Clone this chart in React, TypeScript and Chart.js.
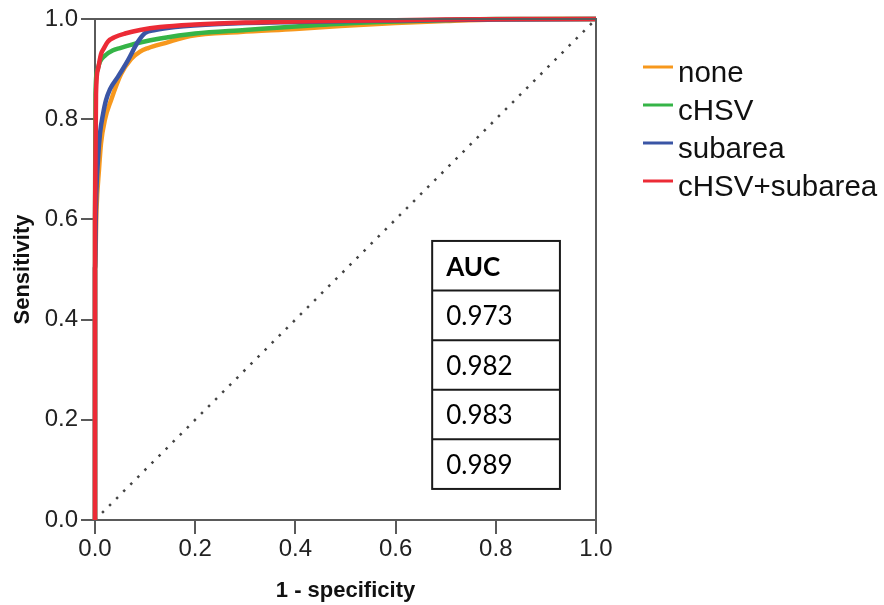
import { useEffect, useRef } from "react";
import { Chart, registerables } from "chart.js";

Chart.register(...registerables);

// ---- data ----
const seriesNames = ["none", "cHSV", "subarea", "cHSV+subarea"];
const seriesColors = ["#F7981D", "#35B447", "#3A55A5", "#EC2B36"];

const noneFpr = [0, 0, 0.003, 0.008, 0.012, 0.02, 0.032, 0.052, 0.072, 0.09, 0.106, 0.14, 0.19, 0.29, 0.4, 0.49, 0.6, 0.7, 0.8, 1];
const noneTpr = [0, 0.5, 0.62, 0.7, 0.752, 0.8, 0.838, 0.89, 0.92, 0.935, 0.942, 0.952, 0.966, 0.974, 0.98, 0.986, 0.992, 0.996, 0.999, 1];

const chsvFpr = [0, 0, 0.001, 0.004, 0.01, 0.02, 0.035, 0.05, 0.07, 0.09, 0.13, 0.2, 0.3, 0.4, 0.5, 0.6, 0.7, 0.8, 1];
const chsvTpr = [0, 0.6, 0.85, 0.895, 0.915, 0.927, 0.937, 0.942, 0.948, 0.953, 0.961, 0.971, 0.978, 0.985, 0.991, 0.995, 0.998, 1, 1];

const subareaFpr = [0, 0, 0.002, 0.006, 0.01, 0.016, 0.022, 0.03, 0.046, 0.066, 0.086, 0.1, 0.12, 0.16, 0.25, 0.4, 0.6, 0.8, 1];
const subareaTpr = [0, 0.5, 0.63, 0.72, 0.772, 0.81, 0.838, 0.86, 0.885, 0.918, 0.955, 0.972, 0.978, 0.984, 0.99, 0.994, 0.997, 0.999, 1];

const bothFpr = [0, 0, 0.002, 0.006, 0.012, 0.018, 0.026, 0.04, 0.06, 0.09, 0.13, 0.2, 0.3, 0.4, 0.55, 0.7, 0.85, 1];
const bothTpr = [0, 0.6, 0.85, 0.9, 0.93, 0.942, 0.955, 0.964, 0.971, 0.978, 0.984, 0.989, 0.993, 0.995, 0.997, 0.999, 1, 1];

const diagFpr = [0, 1];
const diagTpr = [0, 1];

const xTicks = [0, 0.2, 0.4, 0.6, 0.8, 1.0];
const yTicks = [0, 0.2, 0.4, 0.6, 0.8, 1.0];

const xTitle = "1 - specificity";
const yTitle = "Sensitivity";

const aucHeader = "AUC";
const aucValues = ["0.973", "0.982", "0.983", "0.989"];

// ---- helpers ----
const toPoints = (xs: number[], ys: number[]) => xs.map((x, i) => ({ x, y: ys[i] }));

const ARIAL = "'Liberation Sans', Arial, sans-serif";

const framePlugin = {
  id: "frame",
  afterDraw(chart: any) {
    const { ctx, chartArea } = chart;
    ctx.save();
    ctx.strokeStyle = "#5a5a5a";
    ctx.lineWidth = 2;
    ctx.beginPath();
    ctx.moveTo(chartArea.left, chartArea.top);
    ctx.lineTo(chartArea.right, chartArea.top);
    ctx.lineTo(chartArea.right, chartArea.bottom);
    ctx.stroke();
    ctx.restore();
  },
};

const aucTablePlugin = {
  id: "aucTable",
  afterDraw(chart: any) {
    const { ctx } = chart;
    const xs = chart.scales.x;
    const ys = chart.scales.y;
    const left = xs.getPixelForValue(0.673);
    const right = xs.getPixelForValue(0.928);
    const top = ys.getPixelForValue(0.557);
    const bottom = ys.getPixelForValue(0.062);
    const rows = [aucHeader, ...aucValues];
    const rowH = (bottom - top) / rows.length;
    ctx.save();
    ctx.fillStyle = "#ffffff";
    ctx.fillRect(left, top, right - left, bottom - top);
    ctx.strokeStyle = "#1a1a1a";
    ctx.lineWidth = 2;
    ctx.strokeRect(left, top, right - left, bottom - top);
    for (let i = 1; i < rows.length; i++) {
      const y = top + rowH * i;
      ctx.beginPath();
      ctx.moveTo(left, y);
      ctx.lineTo(right, y);
      ctx.stroke();
    }
    ctx.fillStyle = "#000000";
    ctx.textBaseline = "alphabetic";
    ctx.textAlign = "left";
    rows.forEach((t, i) => {
      ctx.font = (i === 0 ? "bold " : "") + "26px Lato, 'Open Sans', sans-serif";
      ctx.fillText(t, left + 14, top + rowH * i + rowH * 0.7);
    });
    ctx.restore();
  },
};

const legendPlugin = {
  id: "customLegend",
  afterDraw(chart: any) {
    const { ctx } = chart;
    ctx.save();
    const x0 = 643;
    const y0 = 67;
    const gap = 38;
    ctx.font = "29.5px " + ARIAL;
    ctx.textAlign = "left";
    ctx.textBaseline = "alphabetic";
    seriesNames.forEach((name, i) => {
      const y = y0 + gap * i;
      ctx.strokeStyle = seriesColors[i];
      ctx.lineWidth = 3;
      ctx.beginPath();
      ctx.moveTo(x0, y);
      ctx.lineTo(x0 + 30, y);
      ctx.stroke();
      ctx.fillStyle = "#111111";
      ctx.fillText(name, x0 + 35, y + 15);
    });
    ctx.restore();
  },
};

export default function App() {
  const ref = useRef<HTMLCanvasElement | null>(null);

  useEffect(() => {
    if (!ref.current) return;
    const seriesData = [
      toPoints(noneFpr, noneTpr),
      toPoints(chsvFpr, chsvTpr),
      toPoints(subareaFpr, subareaTpr),
      toPoints(bothFpr, bothTpr),
    ];
    const datasets: any[] = seriesNames.map((name, i) => ({
      label: name,
      data: seriesData[i],
      borderColor: seriesColors[i],
      backgroundColor: seriesColors[i],
      borderWidth: 4.5,
      pointRadius: 0,
      cubicInterpolationMode: "monotone",
      showLine: true,
      fill: false,
      order: 4 - i,
      clip: 6,
    }));
    datasets.push({
      label: "diag",
      data: toPoints(diagFpr, diagTpr),
      borderColor: "#444444",
      borderWidth: 2.5,
      borderDash: [2.5, 7.5],
      pointRadius: 0,
      showLine: true,
      fill: false,
      order: 10,
    });

    const chart = new Chart(ref.current, {
      type: "scatter",
      data: { datasets },
      options: {
        animation: false,
        responsive: false,
        maintainAspectRatio: false,
        layout: { padding: { top: 19, right: 288, left: 0, bottom: 0 } },
        plugins: {
          legend: { display: false },
          tooltip: { enabled: false },
        },
        scales: {
          x: {
            type: "linear",
            min: 0,
            max: 1,
            afterFit: (s: any) => {
              s.height = 85;
            },
            afterBuildTicks: (s: any) => {
              s.ticks = xTicks.map((v) => ({ value: v }));
            },
            ticks: {
              font: { family: ARIAL, size: 24 },
              color: "#222222",
              padding: 1,
              maxRotation: 0,
              callback: (v: any) => Number(v).toFixed(1),
            },
            grid: {
              drawOnChartArea: false,
              drawTicks: true,
              tickLength: 14,
              color: "#5a5a5a",
              lineWidth: 2,
            },
            border: { display: true, color: "#5a5a5a", width: 2 },
            title: {
              display: true,
              text: xTitle,
              font: { family: ARIAL, size: 22, weight: "bold" },
              color: "#111111",
              padding: { top: 0, bottom: 1 },
            },
          },
          y: {
            type: "linear",
            min: 0,
            max: 1,
            afterFit: (s: any) => {
              s.width = 95;
            },
            afterBuildTicks: (s: any) => {
              s.ticks = yTicks.map((v) => ({ value: v }));
            },
            ticks: {
              font: { family: ARIAL, size: 24 },
              color: "#222222",
              padding: 3,
              callback: (v: any) => Number(v).toFixed(1),
            },
            grid: {
              drawOnChartArea: false,
              drawTicks: true,
              tickLength: 14,
              color: "#5a5a5a",
              lineWidth: 2,
            },
            border: { display: true, color: "#5a5a5a", width: 2 },
            title: {
              display: true,
              text: yTitle,
              font: { family: ARIAL, size: 22, weight: "bold" },
              color: "#111111",
              padding: { top: 10, bottom: 0 },
            },
          },
        },
      },
      plugins: [framePlugin, aucTablePlugin, legendPlugin],
    });
    return () => chart.destroy();
  }, []);

  return (
    <div style={{ position: "fixed", left: 0, top: 0, width: 884, height: 605, background: "#ffffff" }}>
      <canvas ref={ref} width={884} height={605} style={{ width: 884, height: 605, display: "block" }} />
    </div>
  );
}
